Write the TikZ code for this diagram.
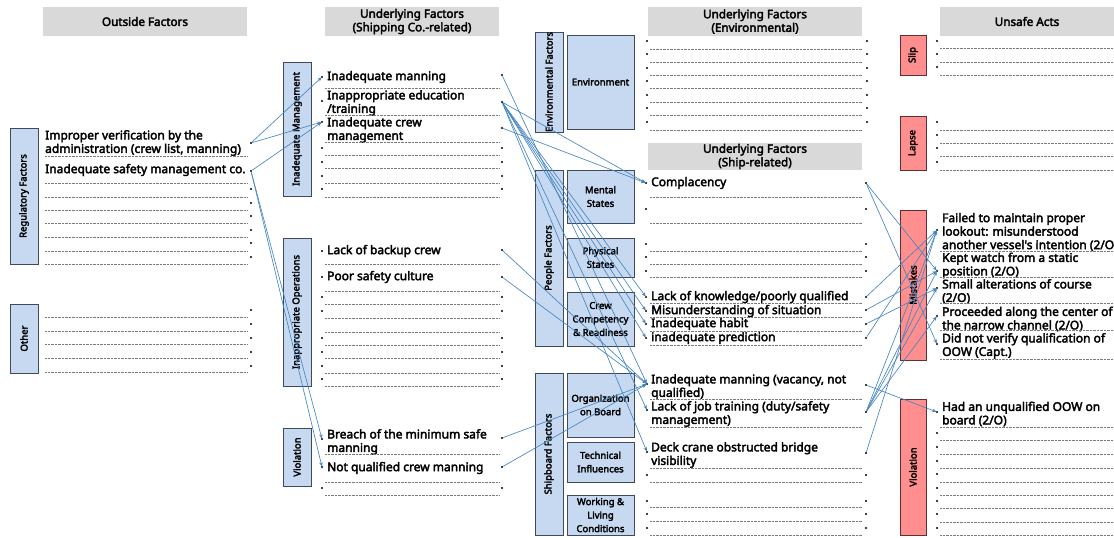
\documentclass[tikz,border=0pt]{standalone}
\usepackage{fontspec}
\setmainfont{Noto Sans}
\newfontfamily\heavysans{Noto Sans}[FakeBold=3]
\usetikzlibrary{arrows.meta}
\definecolor{hdrgray}{HTML}{D9D9D9}
\definecolor{catfill}{HTML}{C6D9F1}
\definecolor{catedge}{HTML}{3F4B5B}
\definecolor{actfill}{HTML}{FF8E8E}
\definecolor{actedge}{HTML}{5E3232}
\definecolor{linkblue}{HTML}{4585C0}
\definecolor{rulegray}{HTML}{7A7A7A}
\tikzset{
  hdr/.style={fill=hdrgray, inner sep=0pt, align=center, font=\heavysans\fontsize{11.7}{13.5}\selectfont},
  cat/.style={draw=catedge, fill=catfill, line width=0.9pt, inner sep=0pt, align=center, font=\heavysans\fontsize{9.5}{13.5}\selectfont},
  act/.style={draw=actedge, fill=actfill, line width=0.9pt, inner sep=0pt, font=\heavysans\fontsize{9.5}{10}\selectfont},
  item/.style={anchor=west, inner sep=0pt, align=left, font=\heavysans\fontsize{12}{13.5}\selectfont},
  dot/.style={circle, fill=black, inner sep=0pt, minimum size=2.4pt},
  rule/.style={draw=rulegray, line width=0.55pt, dash pattern=on 0.9pt off 0.5pt},
  link/.style={draw=linkblue, line width=0.65pt, -{Stealth[length=4.5pt,width=3.5pt]}, shorten >=-1pt},
}
\begin{document}
\begin{tikzpicture}[x=1pt, y=-1pt]
\useasboundingbox (0,0) rectangle (1114,538);

% ---------- column headers ----------
\node[hdr, minimum width=204, minimum height=29] (hout) at (145,21.5) {Outside Factors};
\node[hdr, minimum width=174, minimum height=29] (hship) at (412,21.5) {Underlying Factors\\(Shipping Co.-related)};
\node[hdr, minimum width=214, minimum height=29] (henv) at (755,21.5) {Underlying Factors\\(Environmental)};
\node[hdr, minimum width=174, minimum height=29] (hacts) at (1027,21.5) {Unsafe Acts};
\node[hdr, minimum width=214, minimum height=27] (hboard) at (755,156.5) {Underlying Factors\\(Ship-related)};

% ---------- category boxes ----------
\node[cat, rotate=90, minimum width=136, minimum height=28] (creg) at (24,196) {Regulatory Factors};
\node[cat, rotate=90, minimum width=69, minimum height=28] (coth) at (24,338.5) {Other};
\node[cat, rotate=90, minimum width=134, minimum height=28] (cman) at (297,129) {Inadequate Management};
\node[cat, rotate=90, minimum width=148, minimum height=28] (cops) at (297,312) {Inappropriate Operations};
\node[cat, rotate=90, minimum width=58, minimum height=28] (cvio) at (297,457) {Violation};
\node[cat, rotate=90, minimum width=94, minimum height=28] (cenvf) at (549,82) {Environmental Factors};
\node[cat, minimum width=67, minimum height=94] (cenv) at (600.5,82) {Environment};
\node[cat, rotate=90, minimum width=176, minimum height=28] (cpeo) at (549,258) {People Factors};
\node[cat, minimum width=67, minimum height=53] (cmen) at (600.5,196.5) {Mental\\States};
\node[cat, minimum width=67, minimum height=39] (cphy) at (600.5,257.5) {Physical\\States};
\node[cat, minimum width=67, minimum height=54] (ccrew) at (600.5,319) {Crew\\Competency\\\& Readiness};
\node[cat, rotate=90, minimum width=162, minimum height=28] (cshp) at (549,454) {Shipboard Factors};
\node[cat, minimum width=67, minimum height=64] (corg) at (600.5,405) {Organization\\on Board};
\node[cat, minimum width=67, minimum height=40] (ctec) at (600.5,462) {Technical\\Influences};
\node[cat, minimum width=67, minimum height=40] (cwork) at (600.5,515) {Working \&\\Living\\Conditions};

\node[act, rotate=90, minimum width=40, minimum height=26] (aslip) at (913,55) {Slip};
\node[act, rotate=90, minimum width=54, minimum height=26] (alap) at (913,143) {Lapse};
\node[act, rotate=90, minimum width=150, minimum height=26] (amis) at (913,285) {Mistakes};
\node[act, rotate=90, minimum width=136, minimum height=26] (avio) at (913,467) {Violation};

% ---------- outside factors ----------
\node[item] (of1) at (45,143) {Improper verification by the\\administration (crew list, manning)};
\node[dot] (of1r) at (251,143) {};
\node[item] (of2) at (45,170) {Inadequate safety management co.};
\node[dot] (of2r) at (251,171) {};
\foreach \y in {156,183,197,210,223,237,251,264} \draw[rule] (45,\y) -- (247,\y);
\foreach \y [count=\i] in {189,203,216,230,243,257} \node[dot] (ofe\i) at (251,\y) {};
\foreach \y in {317,331,344,358,372} \draw[rule] (45,\y) -- (247,\y);
\foreach \y [count=\i] in {310,324,338,352,366} \node[dot] (oto\i) at (251,\y) {};

% ---------- shipping company ----------
\node[item] (im1) at (327,77) {Inadequate manning};
\node[item] (im2) at (327,103) {Inappropriate education\\/training};
\node[item] (im3) at (327,130) {Inadequate crew\\management};
\node[dot] (im1l) at (322,77) {};   \node[dot] (im1r) at (502,75) {};
\node[dot] (im2l) at (322,101) {};  \node[dot] (im2r) at (502,102) {};
\node[dot] (im3l) at (322,122) {};  \node[dot] (im3r) at (502,128) {};
\foreach \y [count=\i] in {148,162,176,189} {
  \node[dot] (ime\i l) at (322,\y) {}; \node[dot] (ime\i r) at (502,\y) {};}
\foreach \y in {88,115,142,155,168,183,197} \draw[rule] (325,\y) -- (499,\y);

\node[item] (io1) at (327,251) {Lack of backup crew};
\node[item] (io2) at (327,277) {Poor safety culture};
\node[dot] (io1l) at (322,251) {};  \node[dot] (io1r) at (502,250) {};
\node[dot] (io2l) at (322,277) {};  \node[dot] (io2r) at (502,277) {};
\foreach \y [count=\i] in {297,311,338,352,366,379} {
  \node[dot] (ioe\i l) at (322,\y) {}; \node[dot] (ioe\i r) at (502,\y) {};}
\foreach \y in {264,291,304,318,332,345,358,373,386} \draw[rule] (325,\y) -- (499,\y);

\node[item] (vi1) at (327,442) {Breach of the minimum safe\\manning};
\node[item] (vi2) at (327,468) {Not qualified crew manning};
\node[dot] (vi1l) at (322,439) {};  \node[dot] (vi1r) at (502,438) {};
\node[dot] (vi2l) at (322,467) {};  \node[dot] (vi2r) at (502,467) {};
\node[dot] (vie1l) at (322,488) {}; \node[dot] (vie1r) at (502,488) {};
\foreach \y in {454,482,495} \draw[rule] (325,\y) -- (499,\y);

% ---------- environmental ----------
\foreach \y [count=\i] in {41,54,68,81,95,108,122} {
  \node[dot] (en\i l) at (647,\y) {}; \node[dot] (en\i r) at (867,\y) {};}
\foreach \y in {49,62,75,88,102,115,130} \draw[rule] (650,\y) -- (862,\y);

% ---------- ship-related ----------
\node[item] (sr1) at (651,183) {Complacency};
\node[dot] (sr1l) at (646,183) {}; \node[dot] (sr1r) at (866,183) {};
\foreach \y [count=\i] in {209,244,257,271} {
  \node[dot] (sre\i l) at (646,\y) {}; \node[dot] (sre\i r) at (866,\y) {};}
\node[item] (sr2) at (651,297) {Lack of knowledge/poorly qualified};
\node[item] (sr3) at (651,311) {Misunderstanding of situation};
\node[item] (sr4) at (651,324) {Inadequate habit};
\node[item] (sr5) at (651,338) {inadequate prediction};
\node[dot] (sr2l) at (646,297) {}; \node[dot] (sr2r) at (866,297) {};
\node[dot] (sr3l) at (646,311) {}; \node[dot] (sr3r) at (866,310) {};
\node[dot] (sr4l) at (646,324) {}; \node[dot] (sr4r) at (866,324) {};
\node[dot] (sr5l) at (646,338) {}; \node[dot] (sr5r) at (866,338) {};
\node[item] (sr6) at (651,387) {Inadequate manning (vacancy, not\\qualified)};
\node[item] (sr7) at (651,414) {Lack of job training (duty/safety\\management)};
\node[item] (sr8) at (651,455) {Deck crane obstructed bridge\\visibility};
\node[dot] (sr6l) at (647,384) {}; \node[dot] (sr6r) at (866,385) {};
\node[dot] (sr7l) at (647,410) {}; \node[dot] (sr7r) at (866,412) {};
\node[dot] (sr8l) at (647,452) {}; \node[dot] (sr8r) at (866,453) {};
\foreach \y [count=\i] in {475,501,514,528} {
  \node[dot] (srb\i l) at (647,\y) {}; \node[dot] (srb\i r) at (866,\y) {};}
\foreach \y in {197,223,251,264,277,303,317,331,345,399,427,468,482,507,521,535}
  \draw[rule] (650,\y) -- (862,\y);

% ---------- unsafe acts ----------
\foreach \y [count=\i] in {41,54,67} \node[dot] (sl\i) at (937,\y) {};
\foreach \y in {48,62,75} \draw[rule] (940,\y) -- (1114,\y);
\foreach \y [count=\i] in {122,135,148,162} \node[dot] (la\i) at (937,\y) {};
\foreach \y in {130,143,156,170} \draw[rule] (940,\y) -- (1114,\y);

\node[item] (mi1) at (942,232) {Failed to maintain proper\\lookout: misunderstood\\another vessel's intention (2/O)};
\node[item] (mi2) at (942,265.5) {Kept watch from a static\\position (2/O)};
\node[item] (mi3) at (942,291.5) {Small alterations of course\\(2/O)};
\node[item] (mi4) at (942,319) {Proceeded along the center of\\the narrow channel (2/O)};
\node[item] (mi5) at (942,346) {Did not verify qualification of\\OOW (Capt.)};
\node[dot] (mi1l) at (937,230) {};
\node[dot] (mi2l) at (937,271) {};
\node[dot] (mi3l) at (937,288) {};
\node[dot] (mi4l) at (937,316) {};
\node[dot] (mi5l) at (937,344) {};
\foreach \y in {251,277,303,330,359} \draw[rule] (940,\y) -- (1114,\y);

\node[item] (uv1) at (942,414) {Had an unqualified OOW on\\board (2/O)};
\node[dot] (uv1l) at (937,412) {};
\foreach \y [count=\i] in {433,447,461,474,488,501,514,528} \node[dot] (uve\i) at (937,\y) {};
\foreach \y in {427,440,454,468,482,495,508,522,535} \draw[rule] (940,\y) -- (1114,\y);

% ---------- causal links ----------
\draw[link] (of1r) -- (im1l);
\draw[link] (of1r) -- (im3l);
\draw[link] (of2r) -- (im3l);
\draw[link] (of2r) -- (vi1l);
\draw[link] (of2r) -- (vi2l);

\draw[link] (im1r) -- (sr6l);
\draw[link] (im2r) -- (sr1l);
\draw[link] (im3r) -- (sr1l);
\draw[link] (im2r) -- (sr2l);
\draw[link] (im2r) -- (sr3l);
\draw[link] (im2r) -- (sr4l);
\draw[link] (im2r) -- (sr5l);
\draw[link] (im2r) -- (sr7l);
\draw[link] (im2r) -- (sr8l);
\draw[link] (io1r) -- (sr6l);
\draw[link] (io2r) -- (sr6l);
\draw[link] (vi1r) -- (sr6l);
\draw[link] (vi2r) -- (sr6l);

\draw[link] (sr1r) -- (mi2l);
\draw[link] (sr1r) -- (mi5l);
\draw[link] (sr2r) -- (mi1l);
\draw[link] (sr3r) -- (mi2l);
\draw[link] (sr4r) -- (mi3l);
\draw[link] (sr5r) -- (mi1l);
\draw[link] (sr6r) -- (uv1l);
\draw[link] (sr7r) -- (mi1l);
\draw[link] (sr7r) -- (mi2l);
\draw[link] (sr7r) -- (mi3l);
\draw[link] (sr7r) -- (mi4l);
\draw[link] (sr8r) -- (mi1l);
\end{tikzpicture}
\end{document}
